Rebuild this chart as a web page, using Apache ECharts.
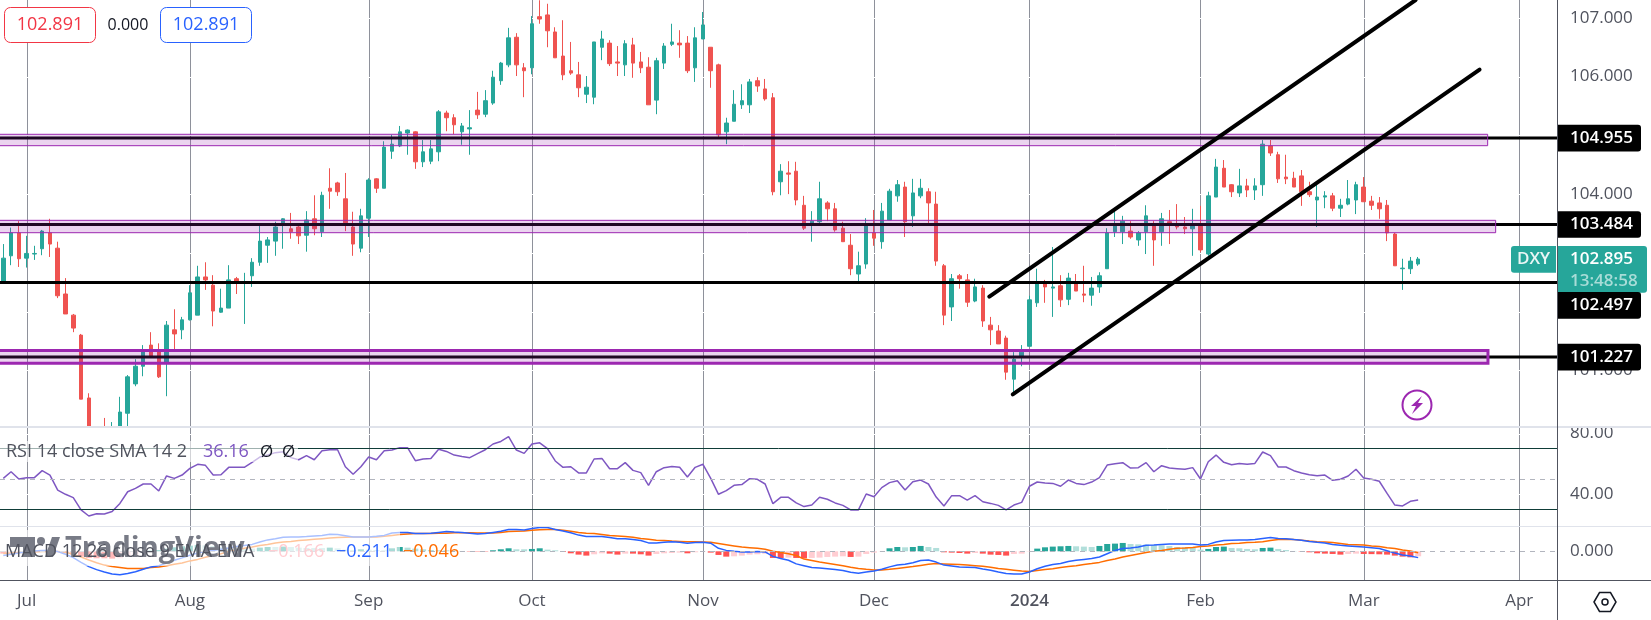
<!DOCTYPE html>
<html><head><meta charset="utf-8">
<style>html,body{margin:0;padding:0;background:#fff}#c{width:1651px;height:620px}</style>
<script src="https://cdn.jsdelivr.net/npm/echarts@6/dist/echarts.min.js"></script>
</head><body><div id="c"></div>
<script>
const opens=[102.52,102.95,103.34,102.91,102.98,103.07,103.34,103.08,102.30,101.94,
101.60,100.53,99.86,99.95,99.55,99.85,100.27,100.77,101.07,101.43,
101.32,101.14,101.69,101.69,101.86,101.94,102.59,102.45,101.99,102.06,
102.56,102.50,102.61,102.84,103.13,103.20,103.47,103.41,103.44,103.30,
103.58,103.36,104.10,104.19,103.92,103.44,103.08,103.59,104.26,104.10,
104.73,104.82,105.04,105.06,104.55,104.56,104.72,105.38,105.30,105.06,
105.11,105.43,105.36,105.55,105.93,106.20,106.67,106.15,106.15,107.02,
107.05,106.76,106.35,106.10,106.03,105.70,105.65,106.50,106.57,106.25,
106.20,106.54,106.25,106.16,105.60,106.23,106.55,106.57,106.57,106.15,
106.64,106.50,106.20,105.06,105.24,105.52,105.52,105.93,105.79,105.64,
104.21,104.36,104.39,103.81,103.49,103.53,103.85,103.75,103.42,103.13,
102.64,102.81,103.34,103.19,103.56,103.97,104.12,103.63,103.97,104.04,
103.83,102.78,102.08,102.61,102.54,102.18,102.40,101.77,101.67,101.55,
100.85,101.23,101.41,102.15,102.49,102.40,102.44,102.21,102.49,102.30,
102.28,102.42,102.73,103.36,103.36,103.37,103.22,103.36,103.46,103.36,
103.53,103.46,103.44,103.41,103.46,102.98,103.95,104.44,104.16,104.02,
104.14,104.07,104.16,104.82,104.67,104.29,104.27,104.31,104.04,103.90,
103.95,103.97,103.76,103.83,103.90,104.12,103.88,103.85,103.81,103.32,
102.73,102.73,102.81];
const closes=[102.91,103.34,102.90,102.99,102.99,103.37,103.15,102.27,101.96,101.72,
100.51,99.85,99.60,99.75,99.90,100.29,100.89,101.07,101.32,101.24,
100.89,101.77,101.62,101.86,102.32,102.59,102.54,102.01,102.06,102.54,
102.52,102.51,102.84,103.20,103.22,103.44,103.58,103.36,103.29,103.56,
103.41,103.98,104.05,104.04,103.51,103.15,103.63,104.24,104.10,104.80,
104.85,105.06,105.09,104.55,104.72,104.77,105.40,105.30,105.18,105.16,
105.13,105.35,105.59,105.99,106.23,106.66,106.20,106.10,106.90,106.98,
106.78,106.32,106.03,106.06,105.81,105.82,106.59,106.64,106.22,106.23,
106.56,106.23,106.15,105.52,106.27,106.52,106.59,106.54,106.10,106.66,
106.88,106.10,105.01,105.21,105.53,105.59,105.91,105.84,105.62,104.04,
104.39,104.34,103.90,103.42,103.54,103.92,103.75,103.39,103.19,102.73,
102.78,103.46,103.25,103.71,104.05,104.16,103.53,104.02,104.10,103.85,
102.86,101.94,102.56,102.56,102.16,102.42,101.84,101.69,101.45,100.97,
101.19,101.31,102.20,102.49,102.42,102.42,102.20,102.57,102.35,102.28,
102.40,102.61,103.34,103.47,103.54,103.27,103.34,103.63,103.22,103.58,
103.51,103.44,103.41,103.49,103.05,103.97,104.46,104.12,104.04,104.14,
104.07,104.14,104.85,104.70,104.26,104.26,104.12,104.04,103.99,103.95,
103.97,103.76,103.81,103.92,104.16,103.87,103.81,103.75,103.34,102.78,
102.74,102.86,102.895];
const lows=[102.51,102.79,102.76,102.75,102.88,102.96,102.93,102.23,101.96,101.65,
100.51,99.70,99.40,99.60,99.45,99.70,99.95,100.73,100.90,101.23,
100.87,100.56,101.35,101.53,101.85,101.94,102.37,101.75,101.98,102.06,
102.30,101.79,102.42,102.78,102.83,102.95,103.07,103.24,103.15,103.02,
103.30,103.27,103.75,103.97,103.37,102.95,103.01,103.27,104.02,104.10,
104.60,104.80,104.67,104.43,104.46,104.51,104.56,105.07,105.02,104.84,
104.67,105.28,105.31,105.52,105.86,106.16,106.01,105.65,106.04,106.90,
106.50,106.32,105.94,106.03,105.65,105.55,105.53,106.28,106.18,106.01,
106.01,105.98,106.06,105.52,105.36,106.13,106.52,106.32,106.06,105.91,
106.64,105.81,104.97,104.85,105.24,105.45,105.38,105.74,105.59,103.98,
103.98,104.00,103.81,103.39,103.19,103.51,103.54,103.36,103.19,102.62,
102.52,102.73,103.12,103.07,103.56,103.87,103.27,103.44,103.93,103.51,
102.78,101.77,101.84,102.39,102.08,102.16,101.74,101.43,101.45,100.84,
100.60,101.07,101.41,102.08,102.15,101.91,102.08,102.11,102.35,102.16,
102.10,102.32,102.73,103.27,103.15,103.24,103.12,102.98,102.78,103.12,
103.15,103.40,103.32,102.95,103.01,102.95,103.95,104.12,103.95,103.95,
103.95,103.90,103.97,104.65,104.19,104.17,104.12,103.80,103.95,103.44,
103.76,103.71,103.61,103.81,103.66,103.87,103.73,103.58,103.20,102.78,
102.37,102.64,102.78];
const highs=[103.15,103.43,103.54,103.29,103.12,103.39,103.58,103.19,102.57,101.96,
101.62,100.61,99.95,100.19,100.12,100.55,100.92,101.19,101.43,101.65,
101.46,101.84,102.04,101.91,102.45,102.78,102.84,102.62,102.39,102.79,
102.59,102.66,102.91,103.47,103.27,103.53,103.59,103.68,103.47,103.71,
103.98,104.04,104.44,104.21,104.36,103.70,103.75,104.27,104.27,104.90,
105.01,105.16,105.10,105.07,104.92,104.92,105.43,105.42,105.36,105.21,
105.43,105.74,105.77,106.10,106.25,106.83,106.74,106.23,107.03,107.30,
107.24,106.84,106.96,106.59,106.25,106.01,106.59,106.78,106.62,106.52,
106.62,106.66,106.42,106.33,106.32,106.57,106.90,106.79,106.69,106.84,
107.10,106.50,106.22,105.30,105.77,105.87,105.96,105.99,105.96,105.72,
104.51,104.56,104.55,103.97,103.71,104.21,103.88,103.85,103.53,103.32,
103.02,103.59,103.73,103.85,104.09,104.24,104.21,104.26,104.26,104.10,
104.04,102.81,102.64,102.64,102.64,102.56,102.45,101.91,101.77,101.59,
101.31,101.43,102.27,102.73,102.54,103.10,102.62,102.66,102.64,102.78,
102.59,102.67,103.42,103.71,103.63,103.54,103.37,103.81,103.54,103.68,
103.73,103.83,103.61,103.75,103.80,104.04,104.60,104.58,104.17,104.43,
104.26,104.27,104.92,104.92,104.72,104.67,104.38,104.41,104.21,104.16,
104.05,104.02,103.92,104.24,104.21,104.29,103.97,103.95,103.90,103.34,
102.90,102.93,102.93];
const rsi=[50.4,54.8,50.0,50.9,50.9,55.5,52.6,42.7,39.9,37.7,
29.6,25.6,27.1,26.9,28.5,33.9,41.6,43.8,46.7,46.7,
42.1,52.0,50.4,52.6,57.0,59.7,59.0,52.6,52.8,57.7,
57.7,57.7,61.0,64.5,65.8,67.4,68.0,64.1,62.7,65.4,
62.7,68.7,69.3,69.3,58.1,53.1,58.1,64.5,62.7,68.7,
69.1,70.7,70.7,62.1,63.2,63.6,69.6,68.2,65.8,64.9,
64.1,66.7,69.3,73.1,74.8,77.9,69.1,66.9,73.1,73.9,
70.0,61.9,57.7,58.1,54.0,54.0,63.2,63.6,56.8,56.8,
60.8,55.7,54.2,45.8,54.8,57.5,58.3,57.7,51.3,57.7,
59.7,50.4,39.9,42.3,45.8,46.3,50.2,49.8,46.7,33.7,
37.9,37.9,34.2,31.8,32.8,37.9,36.6,34.2,32.6,29.6,
29.6,40.1,38.3,44.3,47.6,48.9,42.7,48.2,49.3,46.7,
38.1,32.2,39.0,39.0,36.1,39.0,35.0,33.9,32.6,29.6,
32.8,34.6,45.2,48.0,47.4,47.1,45.2,49.3,47.1,46.3,
48.0,50.9,59.2,60.1,60.8,57.2,57.5,60.8,54.8,58.8,
57.2,56.8,56.4,57.5,50.0,61.4,65.8,61.0,59.4,60.3,
59.7,60.3,67.8,65.4,57.9,57.9,55.5,54.0,52.8,52.2,
52.6,49.1,49.8,52.0,56.4,50.7,49.8,48.5,40.5,32.8,
32.2,35.3,36.16];
const macdLine=[-.14,-.10,-.06,-.01,.01,.03,.03,-.01,-.10,-.21,
-.37,-.51,-.61,-.69,-.76,-.78,-.74,-.68,-.60,-.52,
-.48,-.39,-.30,-.22,-.13,-.06,0,.03,.07,.11,
.16,.19,.23,.31,.38,.42,.47,.48,.48,.49,
.51,.53,.57,.56,.52,.48,.48,.48,.50,.53,
.61,.63,.63,.59,.59,.60,.63,.66,.64,.63,
.60,.58,.59,.63,.67,.73,.73,.71,.76,.79,
.79,.73,.68,.62,.54,.49,.49,.49,.46,.42,
.42,.39,.36,.28,.28,.30,.32,.30,.27,.29,
.30,.27,.10,.03,0,-.02,-.02,-.01,-.02,-.17,
-.24,-.30,-.42,-.48,-.54,-.56,-.58,-.61,-.64,-.70,
-.73,-.69,-.66,-.60,-.52,-.46,-.43,-.38,-.31,-.29,
-.36,-.46,-.49,-.52,-.53,-.54,-.59,-.63,-.69,-.74,
-.76,-.76,-.69,-.58,-.50,-.44,-.41,-.34,-.30,-.27,
-.24,-.19,-.08,.03,.09,.11,.14,.20,.21,.23,
.24,.24,.24,.24,.21,.23,.31,.36,.37,.38,
.38,.39,.43,.46,.43,.42,.39,.37,.33,.30,
.28,.23,.20,.18,.16,.14,.12,.09,.02,-.06,
-.12,-.16,-.211];
const signalLine=[-.07,-.06,-.04,-.03,-.02,-.01,-.01,-.01,-.03,-.10,
-.19,-.29,-.38,-.46,-.51,-.54,-.57,-.57,-.57,-.54,
-.52,-.48,-.43,-.39,-.32,-.27,-.20,-.14,-.08,-.01,
.04,.10,.14,.19,.23,.28,.31,.33,.36,.38,
.40,.42,.44,.46,.47,.48,.48,.48,.48,.50,
.53,.56,.58,.59,.59,.59,.60,.60,.62,.62,
.62,.61,.61,.61,.63,.66,.67,.68,.70,.72,
.73,.73,.70,.67,.63,.60,.59,.56,.53,.51,
.49,.47,.43,.40,.37,.36,.34,.33,.32,.32,
.31,.30,.26,.22,.18,.14,.12,.10,.07,0,
-.04,-.08,-.14,-.26,-.31,-.36,-.40,-.44,-.48,-.53,
-.57,-.60,-.62,-.62,-.60,-.57,-.54,-.51,-.47,-.43,
-.41,-.42,-.43,-.44,-.46,-.48,-.50,-.53,-.57,-.60,
-.63,-.66,-.67,-.64,-.61,-.58,-.54,-.51,-.48,-.44,
-.41,-.37,-.31,-.26,-.19,-.14,-.09,-.04,0,.03,
.07,.10,.11,.13,.16,.18,.21,.23,.26,.27,
.29,.30,.32,.36,.39,.40,.39,.37,.34,.32,
.31,.29,.26,.23,.22,.21,.18,.16,.12,.09,
.04,.01,-.046];
const histogram=[-.078,-.044,-.011,.022,.033,.044,.044,0,-.067,-.111,
-.178,-.222,-.233,-.233,-.244,-.233,-.178,-.111,-.033,.022,
.044,.089,.133,.167,.189,.211,.2,.178,.144,.122,
.111,.089,.089,.122,.144,.144,.156,.144,.122,.111,
.111,.111,.122,.1,.056,.044,.067,.056,.044,.033,
.1,.144,.122,.089,.067,.044,.033,.033,.022,.011,
-.011,-.011,-.011,.033,.067,.1,.067,.067,.078,.1,
.056,.033,-.022,-.067,-.111,-.144,-.1,-.067,-.078,-.111,
-.078,-.078,-.1,-.144,-.089,-.067,-.056,-.044,-.067,-.033,
-.011,-.044,-.122,-.178,-.167,-.144,-.111,-.1,-.078,-.222,
-.225,-.211,-.222,-.233,-.222,-.211,-.189,-.178,-.167,-.189,
-.178,-.089,-.044,-.011,.1,.144,.133,.144,.178,.144,
.111,-.033,-.044,-.056,-.078,-.056,-.078,-.111,-.122,-.144,
-.089,-.078,-.011,.089,.133,.156,.167,.178,.167,.156,
.144,.178,.244,.256,.278,.244,.233,.222,.211,.2,
.178,.144,.133,.111,.056,.078,.144,.156,.111,.1,
.078,.067,.111,.122,.078,.044,.011,-.011,-.033,-.067,
-.078,-.089,-.111,-.089,-.078,-.089,-.094,-.1,-.111,-.144,
-.178,-.2,-.166];
const monthTicks=[3,24,47,68,90,112,132,154,175,195];
const monthLabels=['Jul','Aug','Sep','Oct','Nov','Dec','2024','Feb','Mar','Apr'];
const priceTicks=[107,106,104,101];
const priceGrid=[107,106,105,104,103,102,101];
const rsiTicks=[80,40];
const macdTicks=[0];
const levels=[104.955,103.484,102.497,101.227];
const levelText=['104.955','103.484','102.497','101.227'];
const zoneTop=[105.018,103.554,101.34];
const zoneBottom=[104.824,103.343,101.12];
const zoneEnd=[190.94,191.97,190.98];
const zoneLine=[1,1,3];
const channelUpper=[[126.84,102.254],[181.67,107.304]];
const channelLower=[[129.85,100.59],[189.9,106.12]];
const lastPrice=102.895;

[opens,closes,lows,highs,rsi,macdLine,signalLine,histogram].forEach((a,k)=>{
  if(a.length!==183) throw new Error('array '+k+' length '+a.length);
});

const FONT='"Open Sans", sans-serif';
const TEAL='#26a69a', RED='#ef5350', PURPLE='#9c27b0', GREY='#50535e';
const xMin=-0.4245, xMax=199.86;
const idx=a=>a.map((v,i)=>[i,v]);

function xAxis(g,labels){
  return {type:'value',gridIndex:g,min:xMin,max:xMax,
    axisLine:{show:false},axisTick:{show:false},splitLine:{show:false},
    axisLabel: labels ? {show:true,customValues:monthTicks,margin:13,fontFamily:FONT,fontSize:17,color:GREY,
      hideOverlap:false,showMinLabel:true,showMaxLabel:true,
      formatter:v=>{const s=monthLabels[monthTicks.indexOf(v)];return s==='2024'?'{b|2024}':s;},
      rich:{b:{fontFamily:FONT,fontSize:17,fontWeight:600,color:GREY}}} : {show:false}};
}
function yAxis(g,min,max,ticks,dec){
  return {type:'value',gridIndex:g,position:'right',min,max,
    axisLine:{show:false},axisTick:{show:false},splitLine:{show:false},
    axisLabel:{show:true,customValues:ticks,inside:false,margin:13,fontFamily:FONT,fontSize:17,color:GREY,
      showMinLabel:true,showMaxLabel:true,formatter:v=>v.toFixed(dec)}};
}
function monthLines(g,z){
  return {name:'Month lines '+g,type:'custom',xAxisIndex:g,yAxisIndex:g,z,silent:true,
    data:monthTicks.map(v=>[v]),encode:{x:0},
    renderItem:(params,api)=>{
      const c=params.coordSys, x=Math.round(api.coord([api.value(0),0])[0]);
      return {type:'rect',shape:{x:x,y:c.y,width:1,height:c.height},style:{fill:'#8e919b'}};
    }};
}
function gridGaps(g,z,ticks){
  return {name:'Gaps '+g,type:'custom',xAxisIndex:g,yAxisIndex:g,z,silent:true,
    data:ticks.map(v=>[v]),encode:{y:0},
    renderItem:(params,api)=>{
      const c=params.coordSys, y=Math.round(api.coord([xMin,api.value(0)])[1]);
      return {type:'rect',shape:{x:c.x,y:y,width:c.width,height:1},style:{fill:'#ffffff'}};
    }};
}

const option={
  animation:false,
  backgroundColor:'#ffffff',
  grid:[
    {left:0,top:0,width:1557,height:426},
    {left:0,top:428,width:1557,height:98},
    {left:0,top:527,width:1557,height:53}
  ],
  xAxis:[xAxis(0,false),xAxis(1,false),xAxis(2,true)],
  yAxis:[yAxis(0,100.053,107.304,priceTicks,3),yAxis(1,18.98,83.66,rsiTicks,2),yAxis(2,-0.957,0.81,macdTicks,3)],
  series:[
    monthLines(0,1),gridGaps(0,1.1,priceGrid),
    monthLines(1,2.6),gridGaps(1,2.7,rsiTicks),
    monthLines(2,2.6),
    {name:'DXY',type:'candlestick',xAxisIndex:0,yAxisIndex:0,z:2,barWidth:4,
      data:opens.map((o,i)=>[i,o,closes[i],lows[i],highs[i]]),
      itemStyle:{color:TEAL,color0:RED,borderColor:TEAL,borderColor0:RED,borderWidth:1}},
    {name:'Levels',type:'custom',xAxisIndex:0,yAxisIndex:0,z:3,silent:true,
      data:levels.map(p=>[p]),encode:{y:0},
      renderItem:(params,api)=>{
        const y=api.coord([xMin,api.value(0)])[1];
        return {type:'rect',shape:{x:0,y:y-1.5,width:1557,height:3},style:{fill:'#000000'}};
      }},
    {name:'Zones',type:'custom',xAxisIndex:0,yAxisIndex:0,z:4,silent:true,
      data:zoneTop.map((t,i)=>[t,zoneBottom[i],zoneEnd[i],zoneLine[i]]),encode:{y:[0,1]},
      renderItem:(params,api)=>{
        const a=api.coord([-5,api.value(0)]), b=api.coord([api.value(2),api.value(1)]);
        return {type:'rect',shape:{x:a[0],y:a[1],width:b[0]-a[0],height:b[1]-a[1]},
          style:{fill:'rgba(156,39,176,0.2)',stroke:PURPLE,lineWidth:api.value(3)}};
      }},
    {name:'Channel upper',type:'line',xAxisIndex:0,yAxisIndex:0,z:5,data:channelUpper,showSymbol:false,silent:true,
      lineStyle:{color:'#000',width:4,cap:'round'}},
    {name:'Channel lower',type:'line',xAxisIndex:0,yAxisIndex:0,z:5,data:channelLower,showSymbol:false,silent:true,
      lineStyle:{color:'#000',width:4,cap:'round'}},
    {name:'Tags',type:'custom',xAxisIndex:0,yAxisIndex:0,z:20,silent:true,
      data:[lastPrice,...levels].map(p=>[p]),encode:{y:0},
      renderItem:(params,api)=>{
        const i=params.dataIndex, y=api.coord([xMax,api.value(0)])[1];
        if(i===0){
          return {type:'group',children:[
            {type:'rect',shape:{x:1511,y:y-13,width:45,height:26.7,r:[3,0,0,3]},style:{fill:TEAL}},
            {type:'text',style:{x:1533.5,y:y,text:'DXY',fill:'#e9f6f5',font:'600 17px '+FONT,align:'center',verticalAlign:'middle'}},
            {type:'rect',shape:{x:1557,y:y-13,width:90,height:46.7,r:[0,3,3,0]},style:{fill:TEAL}},
            {type:'text',style:{x:1570,y:y,text:lastPrice.toFixed(3),fill:'#ffffff',font:'600 17px '+FONT,verticalAlign:'middle'}},
            {type:'text',style:{x:1570,y:y+22,text:'13:48:58',fill:'#a8dcd7',font:'600 17px '+FONT,verticalAlign:'middle'}}
          ]};
        }
        const shift=i===3?23:0;
        return {type:'group',children:[
          {type:'rect',shape:{x:1557,y:y+shift-13.3,width:84,height:26.7,r:[0,3,3,0]},style:{fill:'#000000'}},
          {type:'text',style:{x:1570,y:y+shift,text:levelText[i-1],fill:'#ffffff',font:'600 17px '+FONT,verticalAlign:'middle'}}
        ]};
      }},
    {name:'RSI',type:'line',xAxisIndex:1,yAxisIndex:1,z:3,data:idx(rsi),showSymbol:false,
      lineStyle:{color:'#7e57c2',width:1.5},
      markLine:{silent:true,symbol:'none',animation:false,label:{show:false},data:[
        {yAxis:70,lineStyle:{color:'#0f3d38',width:1,type:'solid'}},
        {yAxis:30,lineStyle:{color:'#0f3d38',width:1,type:'solid'}},
        {yAxis:50,lineStyle:{color:'#b2b5be',width:1,type:[5,5]}}
      ]}},
    {name:'Histogram',type:'bar',xAxisIndex:2,yAxisIndex:2,z:3,barWidth:6,data:idx(histogram),
      itemStyle:{color:p=>{
        const v=histogram[p.dataIndex], prev=p.dataIndex?histogram[p.dataIndex-1]:v;
        return v>=0?(v>prev?'#26a69a':'#b2dfdb'):(v>prev?'#ffcdd2':'#ff5252');
      }},
      markLine:{silent:true,symbol:'none',animation:false,label:{show:false},data:[
        {yAxis:0,lineStyle:{color:'#b2b5be',width:1,type:[5,5]}}
      ]}},
    {name:'Signal',type:'line',xAxisIndex:2,yAxisIndex:2,z:3.2,data:idx(signalLine),showSymbol:false,
      lineStyle:{color:'#ff6d00',width:1.5}},
    {name:'MACD',type:'line',xAxisIndex:2,yAxisIndex:2,z:4,data:idx(macdLine),showSymbol:false,
      lineStyle:{color:'#2962ff',width:1.5}}
  ],
  graphic:[
    // hides the candles that run past the bottom of the price pane
    {type:'rect',z:2.5,shape:{x:0,y:426,width:1557,height:154},style:{fill:'#ffffff'}},
    {type:'rect',z:30,shape:{x:0,y:426,width:1651,height:2},style:{fill:'#e0e3eb'}},
    {type:'rect',z:30,shape:{x:0,y:526,width:1651,height:1},style:{fill:'#e0e3eb'}},
    {type:'rect',z:30,shape:{x:0,y:580,width:1651,height:1},style:{fill:GREY}},
    {type:'rect',z:30,shape:{x:1557,y:0,width:1,height:620},style:{fill:GREY}},
    // top-left readout
    {type:'rect',z:40,shape:{x:4.5,y:7.5,width:91,height:35,r:6},style:{fill:'#fff',stroke:'#f23645',lineWidth:1}},
    {type:'text',z:41,style:{x:50,y:25,text:'102.891',fill:'#f23645',font:'18px '+FONT,align:'center',verticalAlign:'middle'}},
    {type:'text',z:41,style:{x:128,y:25,text:'0.000',fill:'#131722',font:'16px '+FONT,align:'center',verticalAlign:'middle'}},
    {type:'rect',z:40,shape:{x:160.5,y:7.5,width:91,height:35,r:6},style:{fill:'#fff',stroke:'#2962ff',lineWidth:1}},
    {type:'text',z:41,style:{x:206,y:25,text:'102.891',fill:'#2962ff',font:'18px '+FONT,align:'center',verticalAlign:'middle'}},
    // lightning badge
    {type:'circle',z:25,shape:{cx:1417,cy:405,r:14.5},style:{fill:'rgba(255,255,255,0)',stroke:PURPLE,lineWidth:2}},
    {type:'polygon',z:25,shape:{points:[[1422,396],[1411,406],[1416,406],[1412,414],[1423,403],[1418,403]]},style:{fill:PURPLE}},
    // legend veils
    {type:'rect',z:35,shape:{x:0,y:441,width:298,height:21},style:{fill:'rgba(255,255,255,0.6)'}},
    {type:'rect',z:35,shape:{x:0,y:530,width:400,height:36},style:{fill:'rgba(255,255,255,0.6)'}},
    // watermark
    {type:'polygon',z:36,shape:{points:[[10,537],[35,537],[35,557],[23,557],[23,547],[10,547]]},style:{fill:'#787b86'}},
    {type:'circle',z:36,shape:{cx:41,cy:541,r:4},style:{fill:'#787b86'}},
    {type:'polygon',z:36,shape:{points:[[45,557],[52,537],[60,537],[53,557]]},style:{fill:'#787b86'}},
    {type:'text',z:36,style:{x:65,y:549,text:'TradingView',fill:'#787b86',font:'bold 29px '+FONT,verticalAlign:'middle'}},
    // legends
    {type:'text',z:41,style:{x:6,y:452,text:'RSI 14 close SMA 14 2',fill:'#50535e',font:'18px '+FONT,verticalAlign:'middle'}},
    {type:'text',z:41,style:{x:203,y:452,text:'36.16',fill:'#7e57c2',font:'18px '+FONT,verticalAlign:'middle'}},
    {type:'text',z:41,style:{x:260,y:452,text:'Ø',fill:'#131722',font:'17px '+FONT,verticalAlign:'middle'}},
    {type:'text',z:41,style:{x:282,y:452,text:'Ø',fill:'#131722',font:'17px '+FONT,verticalAlign:'middle'}},
    {type:'text',z:41,style:{x:5,y:552,text:'MACD 12 26 close 9 EMA EMA',fill:'#50535e',font:'18px '+FONT,verticalAlign:'middle'}},
    {type:'text',z:41,style:{x:268,y:552,text:'−0.166',fill:'#ffcdd2',font:'18px '+FONT,verticalAlign:'middle'}},
    {type:'text',z:41,style:{x:336,y:552,text:'−0.211',fill:'#2962ff',font:'18px '+FONT,verticalAlign:'middle'}},
    {type:'text',z:41,style:{x:403,y:552,text:'−0.046',fill:'#ff6d00',font:'18px '+FONT,verticalAlign:'middle'}},
    // settings icon
    {type:'polygon',z:41,shape:{points:[[1594,602],[1599.5,592.5],[1610.5,592.5],[1616,602],[1610.5,611.5],[1599.5,611.5]]},style:{fill:'#fff',stroke:'#131722',lineWidth:1.5}},
    {type:'circle',z:41,shape:{cx:1605,cy:602,r:3},style:{fill:'#fff',stroke:'#131722',lineWidth:1.5}}
  ]
};
const chart=echarts.init(document.getElementById('c'),null,{renderer:'canvas',width:1651,height:620});
chart.setOption(option);
</script></body></html>
